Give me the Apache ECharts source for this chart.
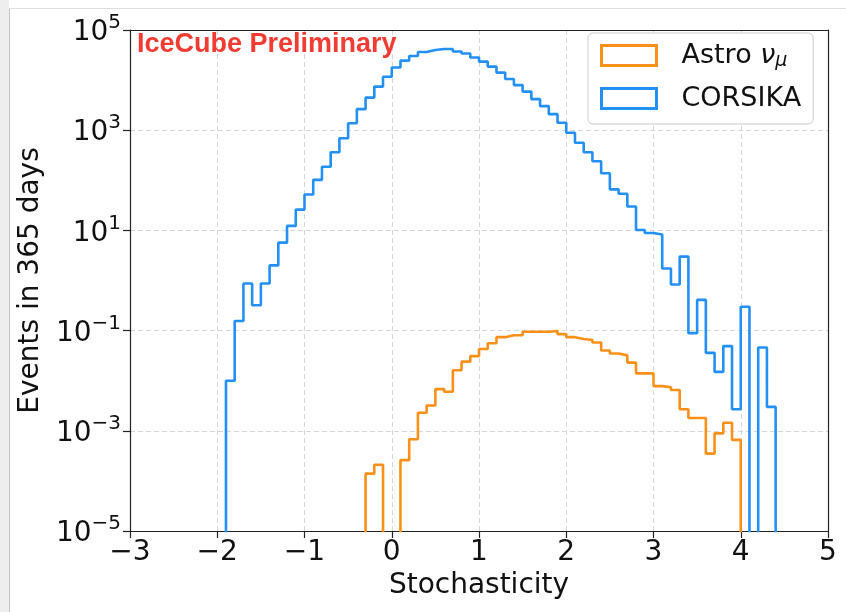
<!DOCTYPE html>
<html>
<head>
<meta charset="utf-8">
<script src="https://cdn.jsdelivr.net/npm/echarts@6/dist/echarts.min.js"></script>
<style>
  html, body { margin: 0; padding: 0; background: #ffffff; }
  #chart { width: 846px; height: 612px; }
</style>
</head>
<body>
<div id="chart"></div>
<script>
// Histogram binning along the stochasticity axis: 80 bins of width 0.1 from -3 to 5
const binStart = -3.0;
const binWidth = 0.1;

// Expected events in 365 days per bin (0 = empty bin)
const corsika = [
  0, 0, 0, 0, 0, 0, 0, 0, 0, 0, 0,
  0.010, 0.155, 0.87, 0.32, 0.87, 2.0, 5.7, 12.3, 26, 52,
  102, 186, 363, 692, 1380, 2630, 4470, 7410, 11700, 17800,
  24500, 30200, 36500, 39800, 41700, 41700, 37200, 33900, 28200, 23400,
  18600, 14100, 10500, 7940, 5890, 4170, 3020, 2090, 1410, 891,
  562, 363, 240, 138, 66, 54, 30, 10.2, 8.9, 8.3,
  1.74, 0.83, 3.0, 0.089, 0.41, 0.036, 0.015, 0.049, 0.0027, 0.30,
  0, 0.046, 0.0030,
  0, 0, 0, 0, 0, 0
];

const astroNuMu = [
  0, 0, 0, 0, 0, 0, 0, 0, 0, 0,
  0, 0, 0, 0, 0, 0, 0, 0, 0, 0,
  0, 0, 0, 0, 0, 0, 0,
  0.00014, 0.00021, 0, 0, 0.00026, 0.00068, 0.0023, 0.0032, 0.0068, 0.0060,
  0.0162, 0.024, 0.031, 0.043, 0.056, 0.074, 0.081, 0.081, 0.095, 0.095,
  0.095, 0.098, 0.085, 0.074, 0.068, 0.065, 0.058, 0.040, 0.035, 0.032,
  0.023, 0.014, 0.014, 0.0078, 0.0074, 0.0065, 0.0027, 0.0018, 0.0018, 0.00035,
  0.00089, 0.00145, 0.00066,
  0, 0, 0, 0, 0, 0, 0, 0, 0, 0
];

// Axis settings
const xMin = -3, xMax = 5, xStep = 1;
const yMin = 1e-5, yMax = 1e5, yDecadeStep = 2;

const seriesNames = ['Astro ν_μ', 'CORSIKA'];
const colors = { astro: '#fa9018', corsika: '#2390f5' };

// Outline of a step histogram: empty bins drop far below the axis and get clipped
function stepOutline(counts) {
  const below = 1e-12;
  const pts = [];
  pts.push([binStart, below]);
  counts.forEach((c, i) => {
    const lo = +(binStart + i * binWidth).toFixed(3);
    const hi = +(binStart + (i + 1) * binWidth).toFixed(3);
    const v = c > 0 ? c : below;
    pts.push([lo, v], [hi, v]);
  });
  pts.push([+(binStart + counts.length * binWidth).toFixed(3), below]);
  return pts;
}

const minus = s => String(s).replace('-', '\u2212');
const fontMain = 'DejaVu Sans';
const spine = { color: '#222222', width: 1.2 };
const gridDash = { color: '#d6d6d6', width: 1, type: [5, 3] };

const chart = echarts.init(document.getElementById('chart'), null, { renderer: 'canvas' });

chart.setOption({
  animation: false,
  backgroundColor: '#ffffff',
  graphic: [
    { type: 'rect', shape: { x: 0, y: 0, width: 9, height: 612 }, style: { fill: '#eeeeee' }, silent: true },
    { type: 'line', shape: { x1: 9.5, y1: 8, x2: 9.5, y2: 612 }, style: { stroke: '#c4c4c4', lineWidth: 1 }, silent: true },
    { type: 'line', shape: { x1: 9, y1: 8.5, x2: 846, y2: 8.5 }, style: { stroke: '#dddddd', lineWidth: 1 }, silent: true },
    {
      type: 'text', left: 137, top: 31, z: 10,
      style: { text: 'IceCube Preliminary', fill: '#f03c32', font: 'bold 27px "Liberation Sans", Arial, sans-serif' }
    }
  ],
  grid: { left: 130, right: 18, top: 30, bottom: 81 },
  legend: {
    orient: 'vertical',
    left: 588, top: 33,
    padding: [9, 12, 12, 12],
    itemGap: 14,
    itemWidth: 55, itemHeight: 20,
    backgroundColor: '#ffffff',
    borderColor: '#cccccc', borderWidth: 1, borderRadius: 5,
    data: [
      { name: seriesNames[0], icon: 'rect', itemStyle: { color: 'rgba(0,0,0,0)', borderColor: colors.astro, borderWidth: 3 } },
      { name: seriesNames[1], icon: 'rect', itemStyle: { color: 'rgba(0,0,0,0)', borderColor: colors.corsika, borderWidth: 3 } }
    ],
    formatter: name => name === seriesNames[0] ? '{t|Astro }{nu|ν}{mu|μ}' : '{t|' + name + '}',
    textStyle: {
      fontFamily: fontMain, fontSize: 27, color: '#111', padding: [0, 0, 0, 20],
      rich: {
        t: { fontFamily: fontMain, fontSize: 27, color: '#111' },
        nu: { fontFamily: fontMain, fontSize: 27, fontStyle: 'italic', color: '#111' },
        mu: { fontFamily: fontMain, fontSize: 19, fontStyle: 'italic', color: '#111', padding: [12, 0, 0, 0] }
      }
    }
  },
  xAxis: [
    {
      type: 'value',
      min: xMin, max: xMax, interval: xStep,
      name: 'Stochasticity',
      nameLocation: 'middle', nameGap: 36,
      nameTextStyle: { fontFamily: fontMain, fontSize: 28, color: '#111' },
      axisLine: { show: true, onZero: false, lineStyle: spine },
      axisTick: { show: true, inside: false, length: 7, lineStyle: spine },
      axisLabel: { margin: 8, fontFamily: fontMain, fontSize: 28, color: '#111', formatter: v => minus(v) },
      splitLine: { show: true, lineStyle: gridDash }
    },
    {
      // top frame line
      type: 'value', position: 'top', min: xMin, max: xMax, interval: xStep,
      axisLine: { show: true, onZero: false, lineStyle: spine },
      axisTick: { show: false }, axisLabel: { show: false }, splitLine: { show: false }
    }
  ],
  yAxis: [
    {
      type: 'log', logBase: 10,
      min: yMin, max: yMax, interval: yDecadeStep,
      name: 'Events in 365 days',
      nameLocation: 'middle', nameGap: 80, nameRotate: 90,
      nameTextStyle: { fontFamily: fontMain, fontSize: 28, color: '#111' },
      axisLine: { show: true, onZero: false, lineStyle: spine },
      axisTick: { show: true, inside: false, length: 7, lineStyle: spine },
      axisLabel: {
        margin: 9,
        formatter: v => {
          const e = Math.round(Math.log10(v));
          return '{b|10}{s|' + minus(e) + '}';
        },
        rich: {
          b: { fontFamily: fontMain, fontSize: 28, color: '#111', lineHeight: 34, verticalAlign: 'bottom' },
          s: { fontFamily: fontMain, fontSize: 20, color: '#111', lineHeight: 34, verticalAlign: 'top', padding: [0, 0, 14, 0] }
        }
      },
      splitLine: { show: true, lineStyle: gridDash }
    },
    {
      // right frame line
      type: 'log', logBase: 10, position: 'right', min: yMin, max: yMax, interval: yDecadeStep,
      axisLine: { show: true, onZero: false, lineStyle: spine },
      axisTick: { show: false }, axisLabel: { show: false }, splitLine: { show: false }
    }
  ],
  series: [
    {
      name: seriesNames[0], type: 'line', data: stepOutline(astroNuMu),
      xAxisIndex: 0, yAxisIndex: 0,
      showSymbol: false, clip: true, z: 3,
      lineStyle: { color: colors.astro, width: 2.6 }, itemStyle: { color: colors.astro }
    },
    {
      name: seriesNames[1], type: 'line', data: stepOutline(corsika),
      xAxisIndex: 0, yAxisIndex: 0,
      showSymbol: false, clip: true, z: 4,
      lineStyle: { color: colors.corsika, width: 2.6 }, itemStyle: { color: colors.corsika }
    }
  ]
});
</script>
</body>
</html>
